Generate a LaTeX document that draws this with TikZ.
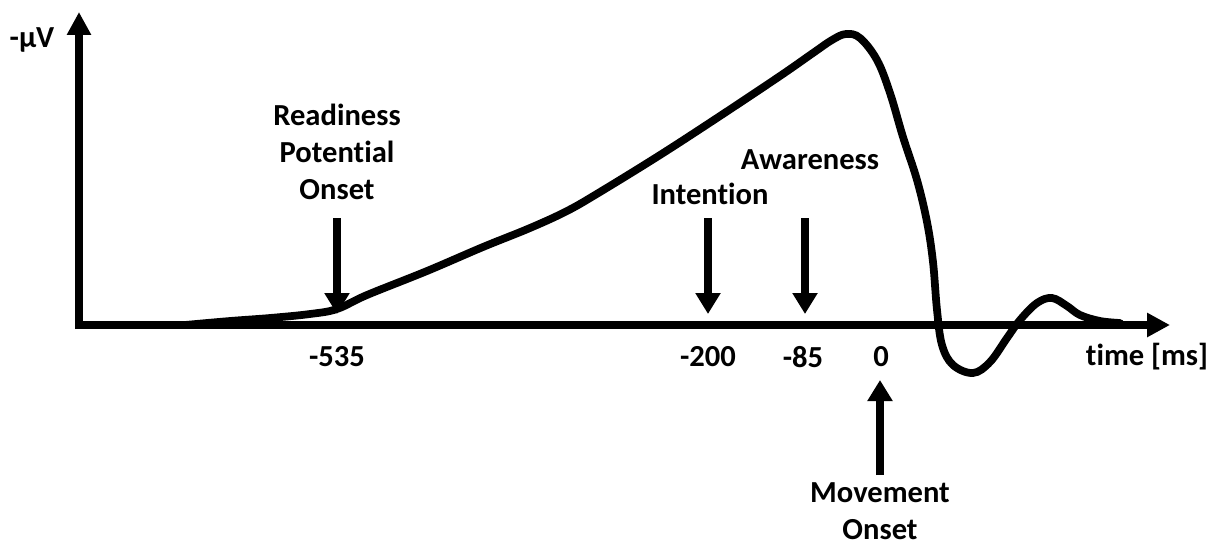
\documentclass[tikz,border=0pt]{standalone}
\usepackage{fontspec}
\setmainfont{Carlito}[Ligatures=NoCommon]
\usepackage{tikz}
\usetikzlibrary{arrows.meta,positioning}

\tikzset{
    lbl/.style={font=\bfseries\fontsize{17.4}{21}\selectfont, align=center, inner sep=0pt},
    axis/.style={line width=4.6pt, -{Triangle[width=0.46cm,length=0.46cm]}},
    evarrow/.style={line width=4.4pt, -{Triangle[width=0.48cm,length=0.42cm]}},
    rp/.style={line width=4.4pt, line cap=round, line join=round}
}

\begin{document}
\begin{tikzpicture}[x=0.02cm, y=-0.02cm]
    \useasboundingbox (0,0) rectangle (1220,545);

    % axes
    \coordinate (origin) at (79,325);
    \coordinate (ytop) at (79,12);
    \coordinate (xend) at (1170,325);
    \draw[axis] (origin) ++(-4,0) -- (xend);
    \draw[axis] (origin) ++(0,4) -- (ytop);
    \node[lbl] (ylab) at (32,40) {-µV};
    \node[lbl] (xlab) at (1147,357) {time [ms]};

    % readiness potential
    \draw[rp] plot[smooth, tension=0.6] coordinates {
        (185,325) (230,321) (270,318) (310,314) (337,309) (367,295) (427,271)
        (483,247) (530,228) (567,211) (600,192) (660,155) (720,116) (780,76)
        (813,53) (832,40) (846,34) (860,38) (877,60) (890,93) (903,137)
        (917,180) (927,222) (933,262) (937,310) (942,345) (953,365) (973,373)
        (990,362) (1007,338) (1020,320) (1037,303) (1052,298) (1067,306)
        (1080,315) (1100,321) (1120,323)};

    % tick labels
    \node[lbl] (t535) at (337,357) {-535};
    \node[lbl] (t200) at (708,357) {-200};
    \node[lbl] (t85) at (803,357) {-85};
    \node[lbl] (t0) at (881,357) {0};

    % Readiness Potential Onset
    \node[lbl] (rpo) at (337,152) {Readiness\\Potential\\Onset};
    \coordinate (rpotop) at (337,218);
    \coordinate (rpotip) at (337,314);
    \draw[evarrow] (rpotop) -- (rpotip);

    % Intention
    \node[lbl] (intent) at (710,194) {Intention};
    \coordinate (inttop) at (708,218);
    \coordinate (inttip) at (708,314);
    \draw[evarrow] (inttop) -- (inttip);

    % Awareness
    \node[lbl] (aware) at (810,160) {Awareness};
    \coordinate (awatop) at (805,218);
    \coordinate (awatip) at (805,314);
    \draw[evarrow] (awatop) -- (awatip);

    % Movement Onset
    \node[lbl] (move) at (880,511) {Movement\\Onset};
    \coordinate (movbot) at (880,475);
    \coordinate (movtip) at (880,380);
    \draw[evarrow] (movbot) -- (movtip);
\end{tikzpicture}
\end{document}
